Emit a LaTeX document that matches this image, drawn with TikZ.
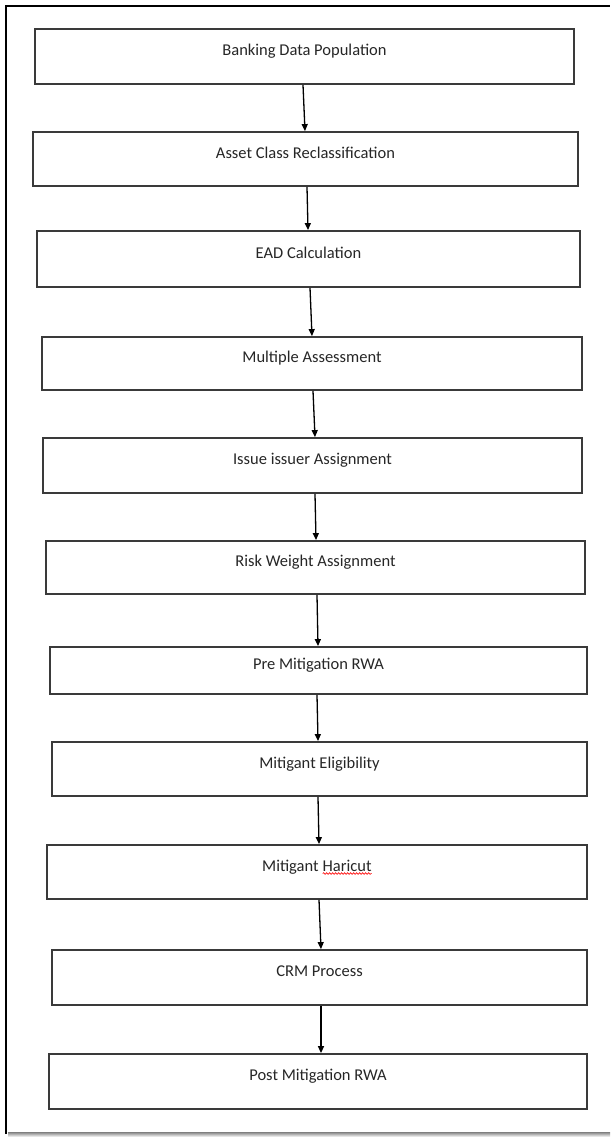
\documentclass[tikz,border=0pt]{standalone}
\usepackage{fontspec}
\setmainfont{Carlito}
\usetikzlibrary{arrows.meta,decorations.pathmorphing}
\definecolor{boxgray}{HTML}{3A3A3A}
\definecolor{txtgray}{HTML}{262626}
\definecolor{shade}{HTML}{E3E3E3}
\newcommand{\spellwave}[1]{\tikz[baseline=(w.base)]{%
  \node[draw=none, inner sep=0pt, outer sep=0pt, minimum width=0pt,
    minimum height=0pt, text height=, text depth=] (w) {#1};
  \draw[red, line width=0.6pt, decorate,
    decoration={snake, amplitude=0.9pt, segment length=3pt}]
    ([yshift=-2.5pt]w.base west) -- ([yshift=-2.5pt]w.base east);}}

\begin{document}
\begin{tikzpicture}[x=1pt, y=-1pt,
  stepbox/.style={draw=boxgray, line width=1.8pt, inner sep=0pt, text=txtgray,
    font=\fontsize{16.5}{19}\selectfont, text height=10pt, text depth=12pt},
  flow/.style={line width=1.3pt, -{Triangle[length=7pt,width=6pt]}},
  frame/.style={line width=2.2pt}]
\useasboundingbox (0,0) rectangle (610,1137);
% ----- page frame -----
\draw[frame] (6,1134) -- (6,6) -- (610,6);
\fill[shade] (8,1132) rectangle (610,1137);
% ----- process steps (left/right/top/bottom) -----
\foreach \n/\l/\r/\t/\b/\txt in {
    b1/35/574/29/84/{Banking Data Population},
    b2/33/578/132/186/{Asset Class Reclassification},
    b3/37/580/231/287/{EAD Calculation},
    b4/42/582/337/390/{Multiple Assessment},
    b5/43/582/438/493/{Issue issuer Assignment},
    b6/46/585/541/594/{Risk Weight Assignment},
    b7/50/587/647/694/{Pre Mitigation RWA},
    b8/52/587/742/796/{Mitigant Eligibility},
    b9/47/587/845/899/{Mitigant \spellwave{Haricut}},
    b10/52/587/950/1005/{CRM Process},
    b11/49/587/1054/1109/{Post Mitigation RWA}}{
  \node[stepbox, minimum width={(\r-\l)*1pt}, minimum height={(\b-\t)*1pt}]
    (\n) at ({(\l+\r)/2},{(\t+\b)/2}) {\txt};
}
% ----- arrows between steps -----
\foreach \a/\z/\xa/\xz in {b1/b2/303/305, b2/b3/307/308, b3/b4/310/312,
    b4/b5/313/315, b5/b6/315/316, b6/b7/317/318, b7/b8/317/318,
    b8/b9/318/319, b9/b10/319/321, b10/b11/321/321}{
  \draw[flow] (\a.south -| \xa,0) -- (\z.north -| \xz,0);
}
\end{tikzpicture}
\end{document}
